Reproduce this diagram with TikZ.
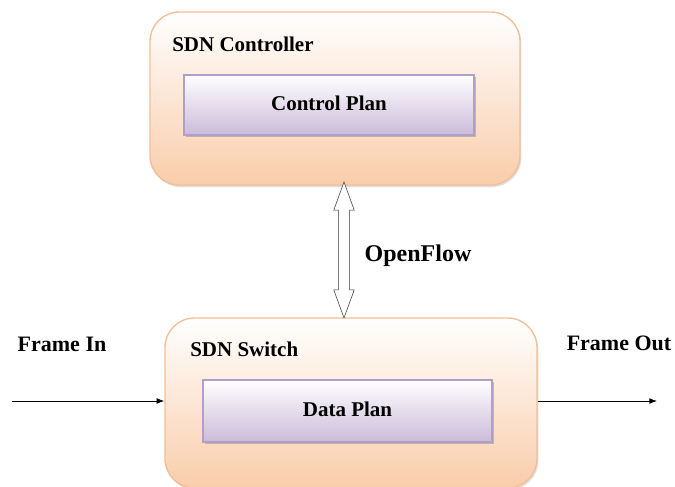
\documentclass[tikz,border=0pt]{standalone}
\usepackage{fontspec}
\setmainfont{Liberation Serif}
\usetikzlibrary{positioning, shapes.arrows, shadows, arrows.meta}

\definecolor{peach}{HTML}{F9CDAA}
\definecolor{peachline}{HTML}{F3BE96}
\definecolor{lavender}{HTML}{CBBBD9}
\definecolor{lavline}{HTML}{B09FCB}

\begin{document}
\begin{tikzpicture}[x=0.75pt, y=-0.75pt, >=Latex,
  outerbox/.style={draw=peachline, line width=1pt, rounded corners=22pt,
    top color=white, bottom color=peach,
    drop shadow={opacity=0.25, shadow xshift=1pt, shadow yshift=-1.5pt}},
  innerbox/.style={draw=lavline, line width=0.8pt,
    top color=white, bottom color=lavender,
    drop shadow={opacity=0.45, shadow xshift=1.2pt, shadow yshift=-1.8pt},
    font=\fontsize{15.75}{18}\selectfont\bfseries},
  title/.style={anchor=west, inner sep=0pt, font=\fontsize{15.75}{18}\selectfont\bfseries},
  side/.style={inner sep=0pt, font=\fontsize{16.5}{19}\selectfont\bfseries}]
  \useasboundingbox (0,0) rectangle (675,486);

  % controller
  \node (ctrl) at (335,98.5) [outerbox, minimum width=277.5pt, minimum height=129.75pt] {};
  \node (ctrl-title) at (172,44) [title] {SDN Controller};
  \node (control) at (329,105) [innerbox, minimum width=217.5pt, minimum height=45pt] {\raisebox{2.5pt}{Control Plan}};

  % switch
  \node (sw) at (351,403) [outerbox, minimum width=279pt, minimum height=127.5pt] {};
  \node (sw-title) at (190,349) [title] {SDN Switch};
  \node (data) at (347.5,411) [innerbox, minimum width=216.75pt, minimum height=46.5pt] {\raisebox{3pt}{Data Plan}};

  % openflow link
  \node (of-arrow) at (344,250) [double arrow, draw=black!80, fill=white, rotate=90,
    inner xsep=0pt, inner ysep=4pt, minimum height=102pt,
    double arrow head extend=3.5pt, double arrow tip angle=40] {};
  \node (of-label) at (418,256) [inner sep=0pt, font=\fontsize{18}{21}\selectfont\bfseries] {OpenFlow};

  % frames
  \node (in-label) at (62,344) [side] {Frame In};
  \node (out-label) at (619,343) [side] {Frame Out};
  \coordinate (in-start) at (12,401);
  \coordinate (out-end) at (657,401);
  \draw [semithick, ->] (in-start) -- (in-start -| sw.west);
  \draw [semithick, ->] (out-end -| sw.east) -- (out-end);
\end{tikzpicture}
\end{document}
